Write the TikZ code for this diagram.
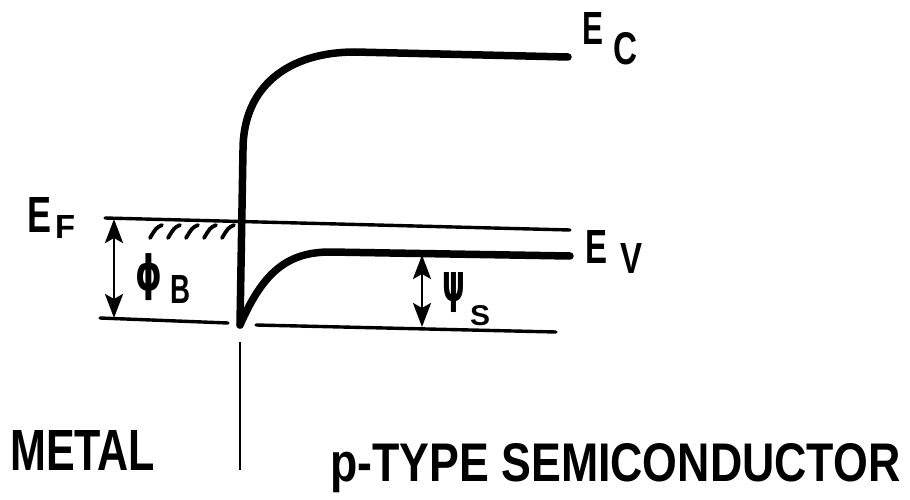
\documentclass[tikz,border=0pt]{standalone}
\usepackage{fontspec}
\usepackage{graphicx}
\setmainfont{Liberation Sans}
\newfontfamily\greekfont{DejaVu Sans}
\usetikzlibrary{arrows.meta}
\newcommand{\fitbox}[3]{\resizebox{#1}{#2}{\bfseries #3}}
\newcommand{\fitgreek}[3]{\resizebox*{#1}{#2}{\greekfont\bfseries #3}}
\tikzset{
  thick band/.style={line width=7.5pt, line cap=round, line join=round},
  thin line/.style={line width=3.4pt, line cap=round},
  dim arrow/.style={line width=2.8pt, {Stealth[length=24pt,width=18pt,inset=5pt]}-{Stealth[length=24pt,width=18pt,inset=5pt]}},
  hatch/.style={line width=3.8pt, line cap=round},
  txt/.style={inner sep=0pt, anchor=base west},
  gtxt/.style={inner sep=0pt, anchor=north west}
}
\begin{document}
\begin{tikzpicture}[x=1pt,y=-1pt]
\useasboundingbox (0,0) rectangle (910,500);
% coordinates
\coordinate (bot) at (240,325);
\coordinate (ecend) at (568,57);
\coordinate (evend) at (570,256);
\coordinate (efl) at (105,218);
\coordinate (efr) at (570,230);
\coordinate (bl1) at (100,318);
\coordinate (bl2) at (228,323);
\coordinate (br1) at (256,325);
\coordinate (br2) at (556,332);
\coordinate (ifa) at (240,342);
\coordinate (ifb) at (240,470);
% conduction band edge
\draw[thick band] (bot) -- (243,150) .. controls (243,85) and (290,52) .. (355,52) -- (ecend);
% valence band edge
\draw[thick band] (bot) .. controls (262,275) and (285,252) .. (330,252) -- (evend);
% Fermi level
\draw[thin line] (efl) -- (efr);
% hatching
\foreach \x in {150,168,186,204,222} \draw[hatch] (\x,238) .. controls (\x+6,228) .. (\x+12,225);
% bottom reference lines
\draw[thin line] (bl1) -- (bl2);
\draw[thin line] (br1) -- (br2);
% interface line
\draw[line width=2.6pt] (ifa) -- (ifb);
% dimension arrows
\coordinate (pa) at (114,219);
\coordinate (pb) at (114,318);
\draw[dim arrow] (pa) -- (pb);
\coordinate (sa) at (422,255);
\coordinate (sb) at (422,327);
\draw[dim arrow] (sa) -- (sb);
% labels
\node[txt] (ec) at (582,45) {\fitbox{21pt}{32pt}{E}};
\node[txt] (ecs) at (613,65) {\fitbox{24pt}{32pt}{C}};
\node[txt] (ev) at (585,263) {\fitbox{22pt}{33pt}{E}};
\node[txt] (evs) at (620,273) {\fitbox{22pt}{30pt}{V}};
\node[txt] (ef) at (27,232) {\fitbox{24pt}{35pt}{E}};
\node[txt] (efs) at (55,238) {\fitbox{20pt}{23pt}{F}};
\node[gtxt] (phi) at (135,253) {\fitgreek{27pt}{47pt}{\symbol{"03D5}}};
\node[txt] (phis) at (170,303) {\fitbox{20pt}{28pt}{B}};
\node[gtxt] (psi) at (442,272) {\fitgreek{23pt}{40pt}{ψ}};
\node[txt] (psis) at (470,325) {\fitbox{20pt}{20pt}{S}};
\node[txt] (metal) at (10,470) {\fitbox{145pt}{40pt}{METAL}};
\node[txt] (semi) at (330,481) {\fitbox{570pt}{38pt}{p-TYPE SEMICONDUCTOR}};
\end{tikzpicture}
\end{document}
